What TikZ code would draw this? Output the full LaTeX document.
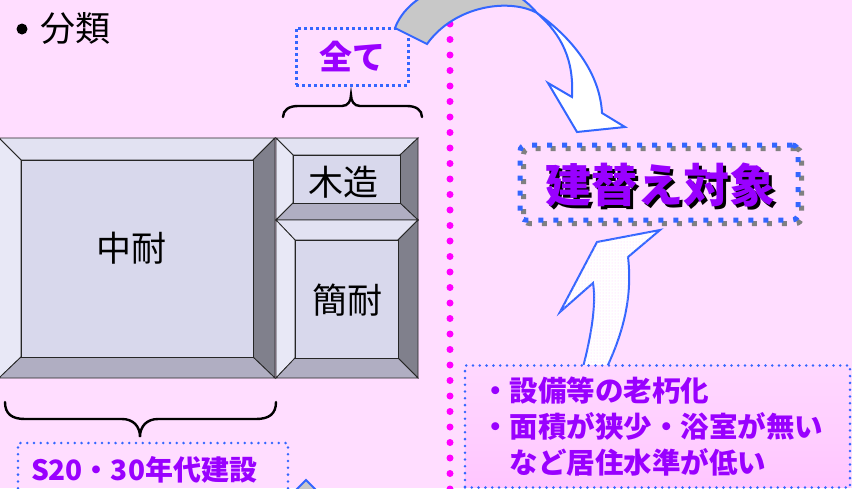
\documentclass[tikz,border=0pt]{standalone}
\usepackage{fontspec}
\newfontfamily\jp{Noto Sans CJK JP}
\usetikzlibrary{patterns}
\definecolor{bgpink}{HTML}{FFDDFF}
\definecolor{purp}{HTML}{9900FF}
\definecolor{blu}{HTML}{3366FF}
\definecolor{mag}{HTML}{FF00FF}
\definecolor{face}{HTML}{D8D8EC}
\definecolor{topb}{HTML}{E2E2F2}
\definecolor{leftb}{HTML}{E8E8F6}
\definecolor{rightb}{HTML}{80808C}
\definecolor{botb}{HTML}{B0AEC2}
\definecolor{arrgray}{HTML}{C8C8C8}
\definecolor{boxtop}{HTML}{FFD8FF}
\definecolor{boxbot}{HTML}{FFC6FF}
\definecolor{dotpink}{HTML}{FFC8FF}
\newcommand\bevelbox[8]{%
  \filldraw[bevline,fill=topb] (#1,#2) -- (#3,#2) -- (#7,#6) -- (#5,#6) -- cycle;
  \filldraw[bevline,fill=leftb] (#1,#2) -- (#5,#6) -- (#5,#8) -- (#1,#4) -- cycle;
  \filldraw[bevline,fill=rightb] (#3,#2) -- (#3,#4) -- (#7,#8) -- (#7,#6) -- cycle;
  \filldraw[bevline,fill=botb] (#1,#4) -- (#3,#4) -- (#7,#8) -- (#5,#8) -- cycle;
  \filldraw[bevline,fill=face] (#5,#6) rectangle (#7,#8);}
\begin{document}
\begin{tikzpicture}[x=1pt,y=-1pt,
  bevline/.style={draw=black!85, line width=0.8},
  blk/.style={font=\jp\fontsize{35}{35}\selectfont, inner sep=0, text=black},
  bracestyle/.style={draw=black, line width=2.4, line cap=round},
  sqdots/.style={line width=3, dash pattern=on 3 off 3},
  bigsq/.style={line width=5, dash pattern=on 5 off 10, rounded corners=6},
  rdots/.style={draw=blu, line width=2.8, line cap=round, dash pattern=on 0 off 6.8},
  arrline/.style={draw=blu, line width=2, line join=miter},
  ptext/.style={font=\jp\bfseries\fontsize{28.5}{36}\selectfont, text=purp}
]
\useasboundingbox (0,0) rectangle (852,488);
\clip (0,0) rectangle (852,488);
\fill[bgpink] (0,0) rectangle (852,488);

% title
\node[circle, fill=black, minimum size=11, inner sep=0] (bul) at (22,29) {};
\node[blk, anchor=west] (title) at (40,28) {分類};

% blocks
\bevelbox{-1}{138}{275}{378}{21}{160}{253}{357}
\bevelbox{276}{138}{418}{220}{293}{155}{400}{203}
\bevelbox{276}{220}{418}{378}{295}{240}{398}{358}
\node[blk] (chutai) at (131,248) {中耐};
\node[blk] (mokuzo) at (343,182) {木造};
\node[blk] (kantai) at (347,300) {簡耐};

% braces
\draw[bracestyle] (283,117) .. controls (283,110) and (289,106) .. (298,106) -- (342,106)
  .. controls (348,106) and (351,101) .. (351,95) .. controls (351,101) and (354,106) .. (360,106)
  -- (407,106) .. controls (416,106) and (422,110) .. (422,117);
\draw[bracestyle] (5,402) .. controls (5,414) and (12,419) .. (25,419) -- (122,419)
  .. controls (133,419) and (140,426) .. (140,437) .. controls (140,426) and (147,419) .. (158,419)
  -- (256,419) .. controls (269,419) and (276,414) .. (276,402);

% all box
\node[draw=blu, sqdots, minimum width=112, minimum height=57, font=\jp\bfseries\fontsize{33}{33}\selectfont, text=purp] (all) at (352,56.5) {全て};

% magenta divider
\draw[mag, line width=7, line cap=round, dash pattern=on 0 off 15.5] (450,8.5) -- (450,500);

% curved arrow top
\filldraw[arrline, fill=arrgray] (395,28) .. controls (412,-18) and (495,-38) .. (537,13)
  .. controls (510,-2) and (455,5) .. (427,44) -- cycle;
\filldraw[arrline, fill=white] (537,13) .. controls (575,40) and (600,75) .. (602,113)
  -- (625,127) -- (577,132) -- (548,83) -- (572,97)
  .. controls (574,60) and (562,35) .. (537,13) -- cycle;

% target box
\node[draw=gray, bigsq, minimum width=278, minimum height=75] (targetsh) at (662.5,186) {};
\node[draw=blu, bigsq, minimum width=278, minimum height=75] (targetbox) at (659,182.5) {};
\node[font=\jp\bfseries\fontsize{46}{46}\selectfont, text=black, inner sep=0] (targettxtsh) at (663,188) {建替え対象};
\node[font=\jp\bfseries\fontsize{46}{46}\selectfont, text=purp, inner sep=0] (targettxt) at (660,185) {建替え対象};

% up arrow
\filldraw[arrline, fill=white, postaction={pattern=dots, pattern color=dotpink}]
  (578,385) .. controls (590,345) and (597,305) .. (593,283)
  -- (560,312) -- (597,242) -- (660,230) -- (628,257)
  .. controls (633,300) and (622,340) .. (598,385) -- cycle;

% reasons box
\node[rdots, top color=boxtop, bottom color=boxbot, minimum width=385, minimum height=122,
  text width=353, align=left, inner xsep=16, inner ysep=0, ptext] (reasons) at (657.5,426.5)
  {・設備等の老朽化\\・面積が狭少・浴室が無い\\\hspace*{1em}など居住水準が低い};

% S20 box
\node[rdots, minimum width=270, minimum height=54, text width=244, align=left,
  inner xsep=13, inner ysep=0, font=\jp\bfseries\fontsize{28}{28}\selectfont, text=purp] (s20) at (153,470)
  {S20・30年代建設};

% bottom gray arrow (partial)
\filldraw[arrline, fill=arrgray] (306,480) -- (290,496) -- (322,496) -- cycle;
\end{tikzpicture}
\end{document}
